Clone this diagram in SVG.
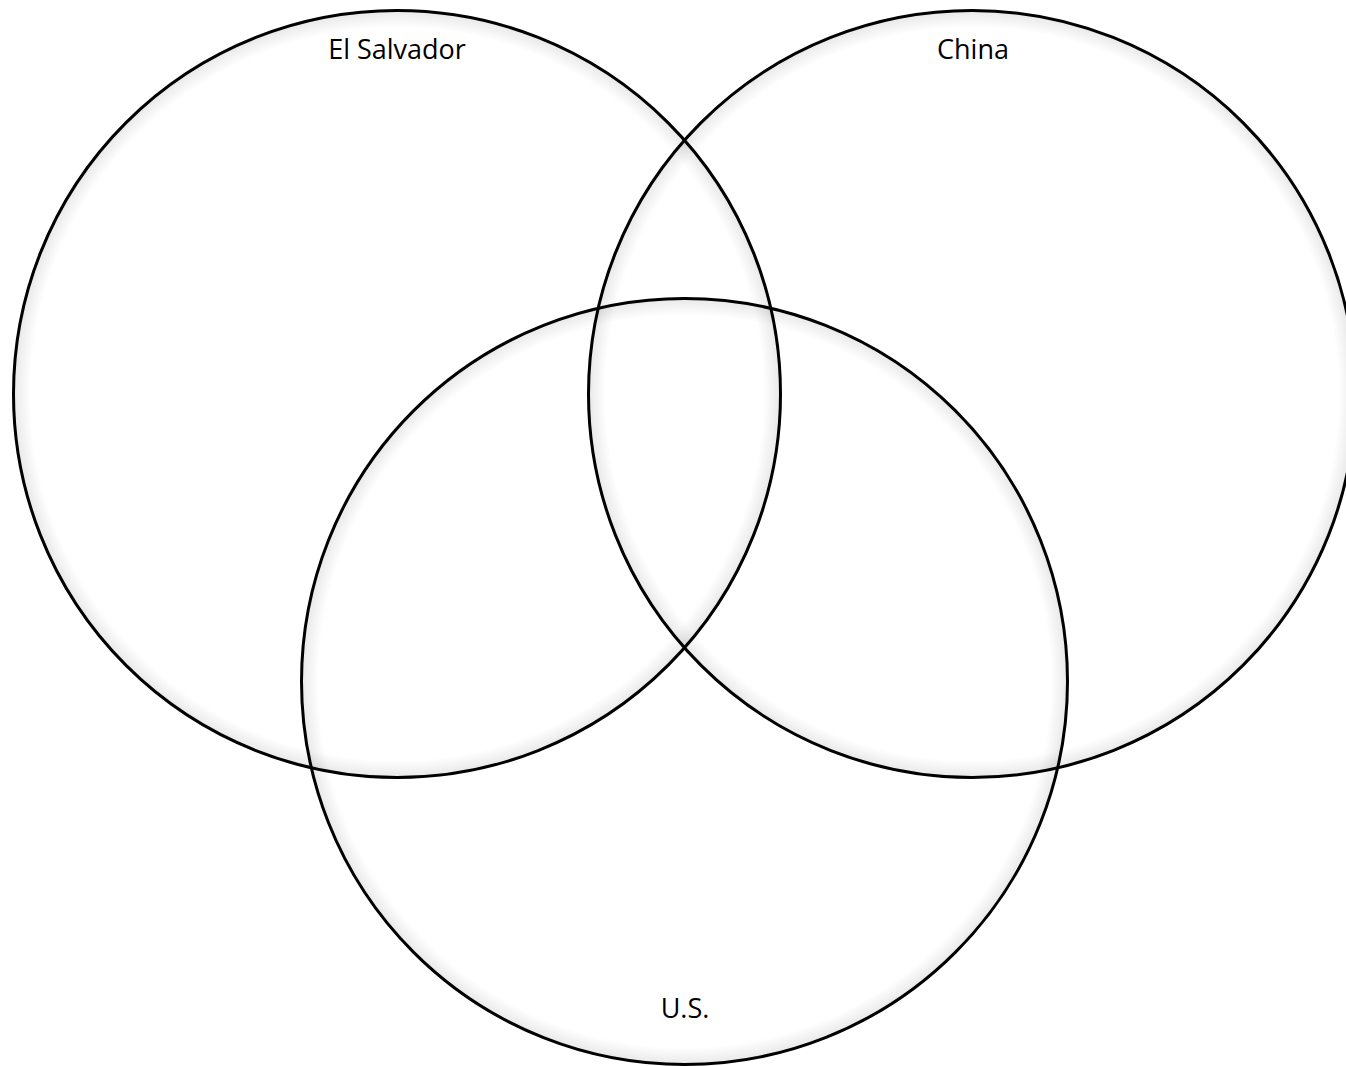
<svg xmlns="http://www.w3.org/2000/svg" width="1346" height="1066" viewBox="0 0 1346 1066">
<style>
.ring{fill:url(#shade);stroke:#000;stroke-width:3}
.lbl{font-family:"Open Sans","Liberation Sans",sans-serif;font-size:27px;fill:#000;text-anchor:middle}
</style>
<defs>
<radialGradient id="shade" cx="0.5" cy="0.5" r="0.5">
<stop offset="0.955" stop-color="#000" stop-opacity="0"/>
<stop offset="1" stop-color="#000" stop-opacity="0.09"/>
</radialGradient>
</defs>
<rect width="1346" height="1066" fill="#fff"/>
<g id="el-salvador">
<circle class="ring" cx="397" cy="394" r="383.5"/>
<text class="lbl" x="397" y="59">El Salvador</text>
</g>
<g id="china">
<circle class="ring" cx="972" cy="394" r="383.5"/>
<text class="lbl" x="973" y="59">China</text>
</g>
<g id="us">
<circle class="ring" cx="684.5" cy="681.5" r="383"/>
<text class="lbl" x="685" y="1018">U.S.</text>
</g>
<g id="connectors"/>
</svg>
